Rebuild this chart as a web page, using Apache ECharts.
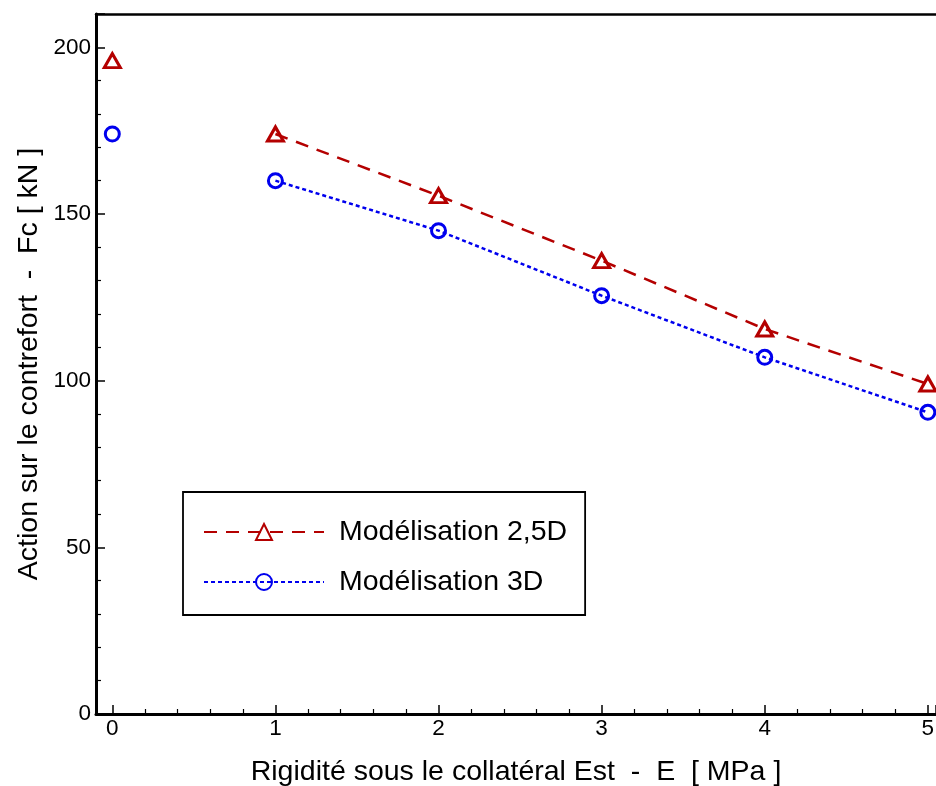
<!DOCTYPE html>
<html>
<head>
<meta charset="utf-8">
<script src="https://cdn.jsdelivr.net/npm/echarts@6/dist/echarts.min.js"></script>
<style>
html,body{margin:0;padding:0;background:#fff;}
#chart{width:936px;height:786px;}
</style>
</head>
<body>
<div id="chart"></div>
<script>
// Data
const seriesNames = ['Modélisation 2,5D', 'Modélisation 3D'];
const xLine = [1, 2, 3, 4, 5];
const y25D = [174, 155.5, 136, 115.5, 99];
const y3D = [160, 145, 125.5, 107, 90.5];
const xIsolated = [0];
const y25DIsolated = [196];
const y3DIsolated = [174];
const xAxisTitle = 'Rigidité sous le collatéral Est  -  E  [ MPa ]';
const yAxisTitle = 'Action sur le contrefort  -  Fc [ kN ]';

const RED = '#b40000';
const BLUE = '#0000ee';
const FONT = 'Liberation Sans';

function pairs(xs, ys) { return xs.map((x, i) => [x, ys[i]]); }

const chart = echarts.init(document.getElementById('chart'), null, {renderer: 'canvas'});
chart.setOption({
  animation: false,
  backgroundColor: '#fff',
  textStyle: {fontFamily: FONT},
  grid: {left: 96, top: 14, bottom: 72, right: 0, show: false, containLabel: false, outerBoundsMode: 'none'},
  xAxis: [{
    type: 'value', min: -0.1, max: 5.05, splitNumber: 5,
    name: xAxisTitle, nameLocation: 'middle', nameGap: 44,
    nameTextStyle: {fontSize: 28.5, color: '#000', fontFamily: FONT},
    axisLine: {show: true, onZero: false, lineStyle: {color: '#000', width: 3}},
    axisTick: {show: true, inside: true, length: 9, lineStyle: {color: '#000', width: 1.5}},
    minorTick: {show: true, splitNumber: 5, length: 5, lineStyle: {color: '#000', width: 1.2}},
    axisLabel: {fontSize: 22.5, color: '#000', margin: 3, showMinLabel: false, showMaxLabel: false, fontFamily: FONT,
      formatter: v => (Math.abs(v - Math.round(v)) < 1e-6 ? String(Math.round(v)) : '')},
    splitLine: {show: false}
  }, {
    type: 'value', position: 'top', min: -0.1, max: 5.05,
    axisLine: {show: true, onZero: false, lineStyle: {color: '#000', width: 2.5}},
    axisTick: {show: false}, axisLabel: {show: false}, splitLine: {show: false}
  }],
  yAxis: {
    type: 'value', min: 0, max: 210, interval: 50,
    name: yAxisTitle, nameLocation: 'middle', nameGap: 52, nameRotate: 90, nameMoveOverlap: false,
    nameTextStyle: {fontSize: 28.5, color: '#000', fontFamily: FONT},
    axisLine: {show: true, onZero: false, lineStyle: {color: '#000', width: 3}},
    axisTick: {show: true, inside: true, length: 9, lineStyle: {color: '#000', width: 1.5}},
    minorTick: {show: true, splitNumber: 5, length: 5, lineStyle: {color: '#000', width: 1.2}},
    axisLabel: {fontSize: 22.5, color: '#000', margin: 5, showMaxLabel: false, fontFamily: FONT},
    splitLine: {show: false}
  },
  legend: {
    data: seriesNames,
    orient: 'vertical',
    left: 183, top: 492,
    padding: [25, 18, 18, 20],
    itemGap: 20,
    itemWidth: 120, itemHeight: 20,
    backgroundColor: '#fff',
    borderColor: '#000', borderWidth: 1.8, borderRadius: 0,
    textStyle: {fontSize: 28.5, color: '#000', fontFamily: FONT, lineHeight: 30, padding: [0, 0, 0, 10]}
  },
  series: [
    {
      name: seriesNames[0], type: 'line', data: pairs(xLine, y25D),
      symbol: 'triangle', symbolSize: [16, 14], showSymbol: true,
      lineStyle: {color: RED, width: 2.5, type: [13, 9]},
      itemStyle: {color: 'rgba(255,255,255,0)', borderColor: RED, borderWidth: 3, opacity: 1},
      z: 3
    },
    {
      name: seriesNames[1], type: 'line', data: pairs(xLine, y3D),
      symbol: 'circle', symbolSize: 14, showSymbol: true,
      lineStyle: {color: BLUE, width: 2.5, type: [4, 3]},
      itemStyle: {color: 'rgba(255,255,255,0)', borderColor: BLUE, borderWidth: 3, opacity: 1},
      z: 3
    },
    {
      name: 'iso25', type: 'scatter', data: pairs(xIsolated, y25DIsolated),
      symbol: 'triangle', symbolSize: [16, 14],
      itemStyle: {color: 'rgba(255,255,255,0)', borderColor: RED, borderWidth: 3, opacity: 1}
    },
    {
      name: 'iso3', type: 'scatter', data: pairs(xIsolated, y3DIsolated),
      symbol: 'circle', symbolSize: 14,
      itemStyle: {color: 'rgba(255,255,255,0)', borderColor: BLUE, borderWidth: 3, opacity: 1}
    }
  ]
});
</script>
</body>
</html>
